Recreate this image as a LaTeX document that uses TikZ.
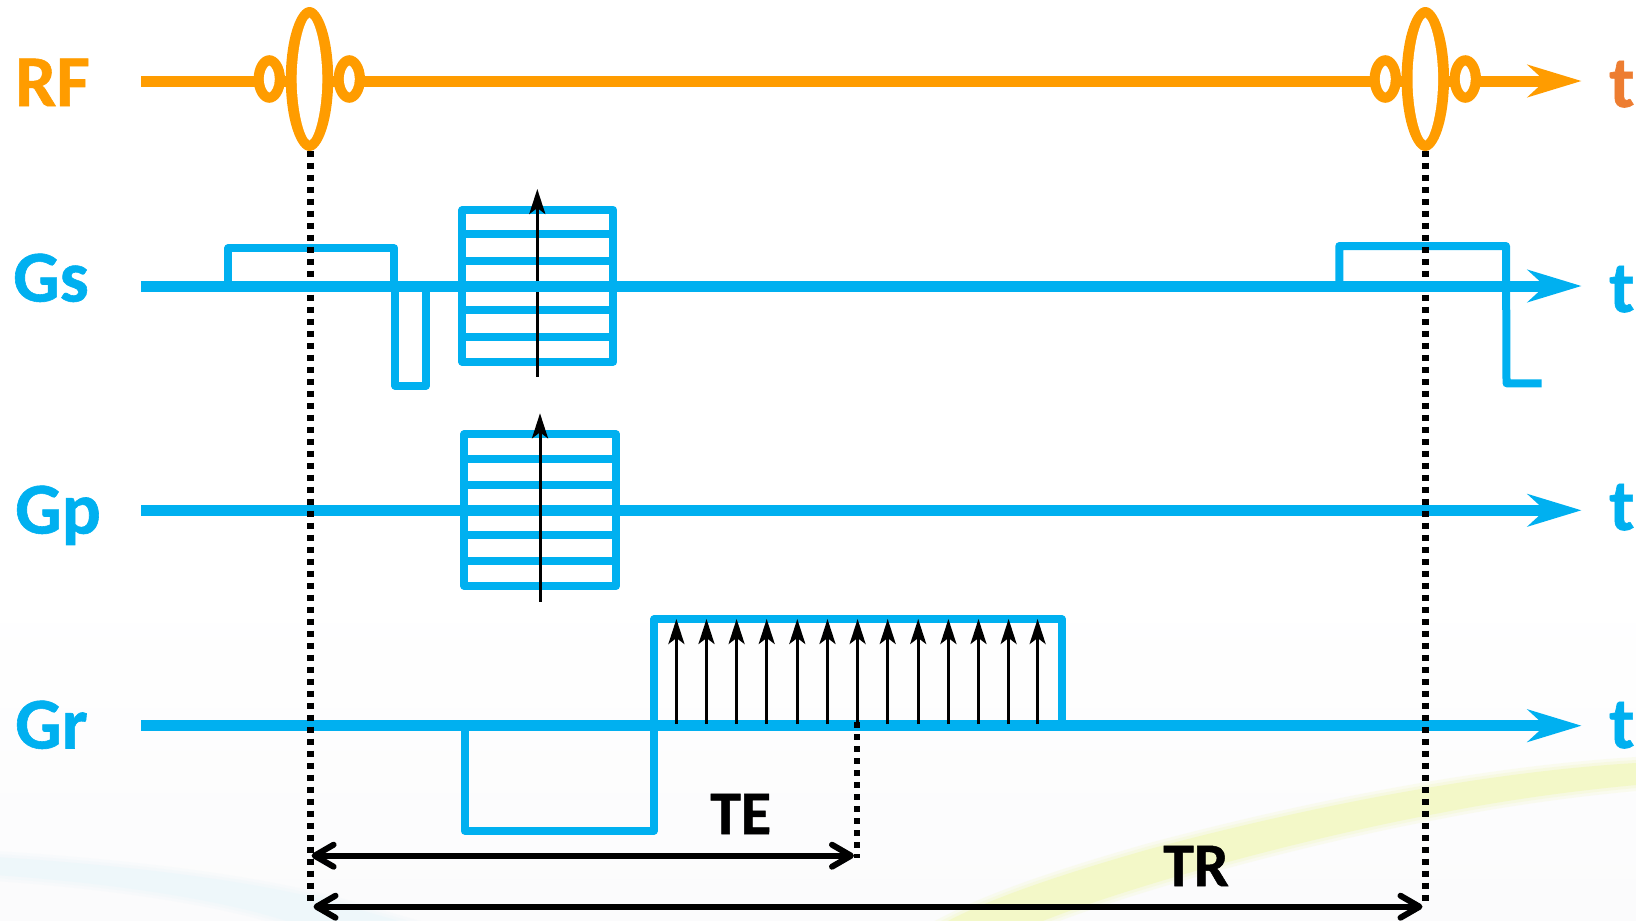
\documentclass[tikz,border=0pt]{standalone}
\usepackage{fontspec}
\setmainfont{Carlito}[BoldFont={Carlito Bold},BoldFeatures={FakeBold=0.8}]
\usetikzlibrary{arrows.meta}
\definecolor{rfc}{HTML}{FF9C00}
\definecolor{rft}{HTML}{ED7D31}
\definecolor{gc}{HTML}{00B0F0}
\definecolor{yel}{HTML}{F3F8C8}
\definecolor{blu}{HTML}{EEF7FA}
\definecolor{bgl}{HTML}{FBFBFC}
\tikzset{
  axisline/.style={line width=11pt,-{Stealth[length=53.6pt,width=32pt,inset=17pt]}},
  lobe/.style={draw=gc,line width=8pt,line join=round},
  dots/.style={black,line width=6.4pt,dash pattern=on 6pt off 6pt},
  thinarrow/.style={black,line width=3pt,-{Stealth[length=25pt,width=16pt,inset=6pt]}},
  span/.style={black,line width=6pt,{Straight Barb[length=19pt,width=22pt,round]}-{Straight Barb[length=19pt,width=22pt,round]}},
  lab/.style={inner sep=0pt,anchor=base west,font=\fontsize{73}{73}\selectfont\bfseries},
  tlab/.style={inner sep=0pt,anchor=base west,font=\fontsize{62}{62}\selectfont\bfseries},
}
% centre x, outer half width, outer half height, inner half width, inner half height
\newcommand{\rfpulse}[5]{%
  \fill[rfc] (#1,79) ellipse [x radius=#2,y radius=#3];
  \fill[white] (#1,79-#5) .. controls (#1+#4*0.42,79-#5*0.95) and (#1+#4,79-#5*0.52) .. (#1+#4,79)
     .. controls (#1+#4,79+#5*0.52) and (#1+#4*0.42,79+#5*0.95) .. (#1,79+#5)
     .. controls (#1-#4*0.42,79+#5*0.95) and (#1-#4,79+#5*0.52) .. (#1-#4,79)
     .. controls (#1-#4,79-#5*0.52) and (#1-#4*0.42,79-#5*0.95) .. cycle;
}
% left, right, top, bottom, and the four inner rows
\newcommand{\stepbox}[8]{%
  \draw[lobe] (#1,#3) rectangle (#2,#4);
  \foreach \r in {#5,#6,#7,#8} \draw[lobe] (#1,\r) -- (#2,\r);
}
\begin{document}
\begin{tikzpicture}[x=1pt,y=-1pt]
\useasboundingbox (0,0) rectangle (1636,921);
\begin{scope}
\clip (0,0) rectangle (1636,921);
% background
\shade[top color=white,bottom color=bgl] (0,580) rectangle (1636,921);
\foreach \w/\o in {14/0.25,8/0.35,2/1}{
  \fill[yel,opacity=\o,draw=yel,line width=\w pt]
    (1636,764) .. controls (1500,772) and (1330,802) .. (1150,850)
    .. controls (1080,870) and (1000,895) .. (950,921)
    -- (1040,921) .. controls (1130,885) and (1300,838) .. (1440,812)
    .. controls (1500,800) and (1570,790) .. (1636,784) -- cycle;
}
\foreach \w/\o in {14/0.25,8/0.35,2/0.9}{
  \fill[blu,opacity=\o,draw=blu,line width=\w pt]
    (-20,857) .. controls (100,864) and (240,878) .. (340,905) -- (395,921) -- (290,921)
    .. controls (210,895) and (90,880) .. (-20,873) -- cycle;
}
% RF
\coordinate (rfa) at (141,81); \coordinate (rfb) at (1581.6,81);
\draw[axisline,draw=rfc,fill=rfc] (rfa) -- (rfb);
% gradients drawn under the dotted lines
\draw[lobe] (228.3,286) -- (228.3,248.3) -- (394.3,248.3) -- (394.3,286);
\draw[lobe] (395.3,286) -- (395.3,385.7) -- (426,385.7) -- (426,286);
\stepbox{462.3}{613.3}{210}{361.7}{234.3}{261}{310}{336.7}
\draw[thinarrow] (537.3,376.7) -- (537.3,189);
\draw[lobe] (1339.3,286) -- (1339.3,246) -- (1506,246) -- (1506.5,383.3) -- (1541.7,383.3);
\coordinate (gpa) at (141,510.3); \coordinate (gpb) at (1581.6,510.3);
\draw[axisline,draw=gc,fill=gc] (gpa) -- (gpb);
\stepbox{464.3}{616}{434.3}{586}{458.7}{485.3}{534.7}{560.7}
\draw[thinarrow] (540,601.7) -- (540,413.3);
\coordinate (gra) at (141,725.7); \coordinate (grb) at (1581.6,725.7);
\draw[axisline,draw=gc,fill=gc] (gra) -- (grb);
\draw[lobe] (464.7,725.7) -- (464.7,830.7) -- (654,830.7) -- (654,619.3) -- (1062,619.3) -- (1062,725.7);
\foreach \x in {676.4,706.5,736.6,766.7,797.3,827.5,857.6,887.7,918.2,948.4,978.5,1008.6,1037.6}
  \draw[thinarrow] (\x,724) -- (\x,619);
% timing lines
\coordinate (d1a) at (310.3,150.7); \coordinate (d1b) at (310.3,900.7);
\coordinate (d2a) at (1425.3,150.7); \coordinate (d2b) at (1425.3,900.7);
\coordinate (d3a) at (857,722); \coordinate (d3b) at (857,858);
\draw[dots] (d1a) -- (d1b);
\draw[dots] (d2a) -- (d2b);
\draw[dots] (d3a) -- (d3b);
\coordinate (gsa) at (141,286); \coordinate (gsb) at (1581.6,286);
\draw[axisline,draw=gc,fill=gc] (gsa) -- (gsb);
% RF pulses
\rfpulse{309.5}{23.7}{72}{12.8}{61.5}
\rfpulse{269.3}{15.7}{23.8}{5.5}{13.5}
\rfpulse{349.3}{15.7}{23.8}{5.5}{13.5}
\rfpulse{1425.3}{23.7}{72}{12.8}{61.5}
\rfpulse{1385.3}{15.7}{23.8}{5.5}{13.5}
\rfpulse{1465.3}{15.7}{23.8}{5.5}{13.5}
% spans
\coordinate (tea) at (311.6,855.7); \coordinate (teb) at (854,855.7);
\coordinate (tra) at (313.5,906.7); \coordinate (trb) at (1422.5,906.7);
\draw[span] (tea) -- (teb);
\draw[span] (tra) -- (trb);
% labels
\node[lab,text=rfc] (lrf) at (15,106) {RF};
\node[lab,text=gc] (lgs) at (13,301.5) {Gs};
\node[lab,text=gc] (lgp) at (15,533.5) {Gp};
\node[lab,text=gc] (lgr) at (15,748.5) {Gr};
\node[lab,text=rft] (t1) at (1609,107) {t};
\node[lab,text=gc] (t2) at (1609,312) {t};
\node[lab,text=gc] (t3) at (1609,530) {t};
\node[lab,text=gc] (t4) at (1609,748) {t};
\node[tlab,text=black] (te) at (710,834) {TE};
\node[tlab,text=black] (tr) at (1163,886) {TR};
\end{scope}
\end{tikzpicture}
\end{document}
